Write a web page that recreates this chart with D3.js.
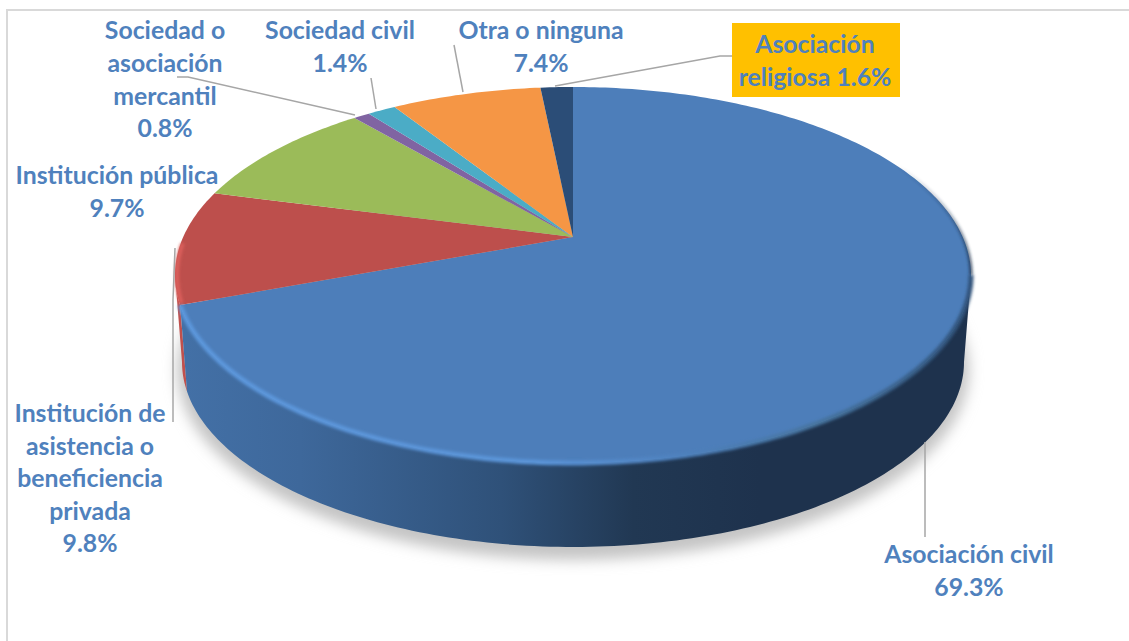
<!DOCTYPE html>
<html>
<head>
<meta charset="utf-8">
<script src="https://cdnjs.cloudflare.com/ajax/libs/d3/7.8.5/d3.min.js"></script>
<style>
  html, body { margin: 0; padding: 0; background: #fff; }
  svg { display: block; }
  text { font-family: Lato, "Open Sans", sans-serif; font-weight: 700; fill: #4f81bd; }
</style>
</head>
<body>
<svg id="chart" width="1129" height="641"></svg>
<script>
// Chart data, clockwise from 12 o'clock
const categories = ['Asociación civil', 'Institución de asistencia o beneficiencia privada',
  'Institución pública', 'Sociedad o asociación mercantil', 'Sociedad civil', 'Otra o ninguna', 'Asociación religiosa'];
const shares = [69.3, 9.8, 9.7, 0.8, 1.4, 7.4, 1.6];
const sliceColors = ['#4d7eba', '#bd4f4c', '#9bbb59', '#8064a2', '#4bacc6', '#f59645', '#2b4d77'];

// Label text, one array of lines per slice
const labelLines = [
  ['Asociación civil', '69.3%'],
  ['Institución de', 'asistencia o', 'beneficiencia', 'privada', '9.8%'],
  ['Institución pública', '9.7%'],
  ['Sociedad o', 'asociación', 'mercantil', '0.8%'],
  ['Sociedad civil', '1.4%'],
  ['Otra o ninguna', '7.4%'],
  ['Asociación', 'religiosa 1.6%']
];

// Layout: where the labels and their leader lines sit
const labelPos = [
  { x: 969, y: 563, lh: 33 },
  { x: 90, y: 422, lh: 32.6 },
  { x: 117, y: 184, lh: 32.5 },
  { x: 165, y: 39, lh: 32.8 },
  { x: 340, y: 39, lh: 33 },
  { x: 541, y: 39, lh: 33 },
  { x: 815, y: 53, lh: 32.5 }
];
const leaders = [
  [[925, 442], [925, 537]],
  [[175, 248], [173, 300], [173, 422]],
  [],
  [[177, 77], [188, 77], [355, 115]],
  [[371, 78], [376, 109]],
  [[454, 45], [463, 92]],
  [[732, 56], [720, 56], [555, 86]]
];

const svg = d3.select('#chart');
const defs = svg.append('defs');

// Top and bottom rims of the disc
const topX = d3.scaleLinear().domain([-1, 1]).range([175, 971]);
const topY = d3.scaleLinear().domain([-1, 1]).range([87, 463]);
const botX = d3.scaleLinear().domain([-1, 1]).range([182, 964]);
const botY = d3.scaleLinear().domain([-1, 1]).range([177, 547]);

// Perspective: the disc centre is seen above the middle of the ellipse
const k = -0.202;
function project(angle) {
  const x = Math.sin(angle);
  const y = -Math.cos(angle);
  const den = 1 + k * y;
  return [x * Math.sqrt(1 - k * k) / den, (y + k) / den];
}
function rim(a0, a1, sx, sy) {
  const n = Math.max(2, Math.ceil(Math.abs(a1 - a0) * 60));
  return d3.range(n + 1).map(i => {
    const p = project(a0 + (a1 - a0) * i / n);
    return [sx(p[0]), sy(p[1])];
  });
}
const rad = d => d * Math.PI / 180;
const line = d3.line();

const pie = d3.pie().sort(null).value(d => d)(shares);
const apex = [topX(0), topY(k)];

// Angles where the rim is widest, the wall silhouette starts there
const rightExtreme = Math.acos(k);
const leftExtreme = 2 * Math.PI - Math.acos(k);

// Filters cover the whole canvas so thin strokes are not clipped
function blur(id, dev) {
  defs.append('filter').attr('id', id)
    .attr('filterUnits', 'userSpaceOnUse')
    .attr('x', 0).attr('y', 0).attr('width', 1129).attr('height', 641)
    .append('feGaussianBlur').attr('stdDeviation', dev);
}
blur('softShadow', 7);
blur('bevelBlur', 1.8);

function gradient(id, stops, x1, x2, y1, y2) {
  const g = defs.append('linearGradient').attr('id', id)
    .attr('gradientUnits', 'userSpaceOnUse')
    .attr('x1', x1).attr('x2', x2).attr('y1', y1).attr('y2', y2);
  stops.forEach(s => {
    g.append('stop').attr('offset', s[0]).attr('stop-color', s[1])
      .attr('stop-opacity', s.length > 2 ? s[2] : 1);
  });
}
gradient('wallBlue', [[0, '#4370a6'], [0.2, '#3e689b'], [0.55, '#2f5179'], [0.78, '#213853'], [1, '#1e324d']], 185, 760, 0, 0);
gradient('rimBlue', [[0, '#5c97dc'], [0.45, '#5a94d8'], [0.62, '#4f82bf'], [0.8, '#46749f'], [1, '#2f5179']], 180, 975, 0, 0);
gradient('rimDark', [[0, '#1e324d', 0], [0.55, '#1e324d', 0.55], [1, '#1e324d', 1]], 0, 0, 165, 285);

// Frame
svg.append('path')
  .attr('d', line([[7, 641], [7, 10], [1129, 10]]))
  .attr('fill', 'none').attr('stroke', '#d9d9d9').attr('stroke-width', 2);

// Soft shadow under the disc
svg.append('ellipse')
  .attr('cx', 573).attr('cy', 370).attr('rx', 396).attr('ry', 190)
  .attr('fill', '#c4c4c4').attr('filter', 'url(#softShadow)');

// Side walls: red one behind, blue one in front
function wall(a0, a1, fill) {
  const pts = rim(a0, a1, topX, topY).concat(rim(a1, a0, botX, botY));
  svg.append('path').attr('d', line(pts) + 'Z').attr('fill', fill);
}
wall(pie[1].startAngle, leftExtreme, '#c0504d');
wall(rightExtreme, pie[0].endAngle, 'url(#wallBlue)');

// Top faces
pie.forEach((s, i) => {
  const pts = [apex].concat(rim(s.startAngle, s.endAngle, topX, topY));
  svg.append('path').attr('class', 'slice')
    .attr('d', line(pts) + 'Z')
    .attr('fill', sliceColors[i])
    .append('title').text(categories[i] + ' ' + shares[i] + '%');
});

// Bevel along the rim: dark at the upper right, light at the front
svg.append('path')
  .attr('d', line(rim(rad(55), rightExtreme, topX, topY)))
  .attr('fill', 'none').attr('stroke', 'url(#rimDark)').attr('stroke-width', 3)
  .attr('filter', 'url(#bevelBlur)');
svg.append('path')
  .attr('d', line(rim(rightExtreme, pie[0].endAngle, topX, topY)))
  .attr('fill', 'none').attr('stroke', 'url(#rimBlue)').attr('stroke-width', 5)
  .attr('filter', 'url(#bevelBlur)');
svg.append('path')
  .attr('d', line(rim(pie[1].startAngle + 0.01, rad(268), d => topX(d) + 2, topY)))
  .attr('fill', 'none').attr('stroke', '#dc5f5b').attr('stroke-width', 4)
  .attr('filter', 'url(#bevelBlur)');

// Box behind the highlighted label
svg.append('rect')
  .attr('x', 732).attr('y', 23).attr('width', 168).attr('height', 74)
  .attr('fill', '#ffc000');

// Leader lines
leaders.filter(d => d.length).forEach(d => {
  svg.append('path').attr('d', line(d))
    .attr('fill', 'none').attr('stroke', '#a6a6a6').attr('stroke-width', 1.5);
});

// Labels
labelLines.forEach((lines, i) => {
  const t = svg.append('text').attr('text-anchor', 'middle').attr('font-size', 24.8);
  lines.forEach((l, j) => {
    t.append('tspan')
      .attr('x', labelPos[i].x)
      .attr('y', labelPos[i].y + j * labelPos[i].lh)
      .text(l);
  });
});
</script>
</body>
</html>
